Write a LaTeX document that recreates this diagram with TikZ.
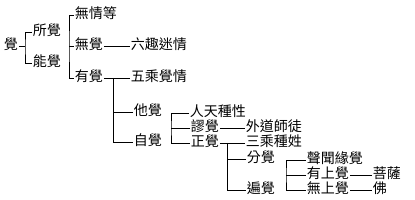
\documentclass[tikz,border=0pt]{standalone}
\usepackage{fontspec}
\newfontfamily\cjkfont{Noto Sans CJK TC}
\usetikzlibrary{positioning}
\begin{document}
\begin{tikzpicture}[x=1pt,y=-1pt,line width=0.9pt,
    term/.style={anchor=west,inner xsep=0.5pt,inner ysep=0pt,text height=8pt,text depth=1.4pt,
      font=\cjkfont\fontsize{14}{14}\selectfont}]
  \useasboundingbox (0,0) rectangle (415,200);
  \node[term] (jue) at (3,46) {覺};
  \node[term] (suo) at (32,32) {所覺};
  \node[term] (neng) at (32,63) {能覺};
  \node[term] (wuqing) at (74,15) {無情等};
  \node[term] (wujue) at (74,46) {無覺};
  \node[term] (youjue) at (74,78) {有覺};
  \node[term] (liuqu) at (130,46) {六趣迷情};
  \node[term] (wucheng) at (130,78) {五乘覺情};
  \node[term] (tajue) at (133,112) {他覺};
  \node[term] (zijue) at (133,142) {自覺};
  \node[term] (rentian) at (189,113) {人天種性};
  \node[term] (miujue) at (190,128) {謬覺};
  \node[term] (zhengjue) at (190,143) {正覺};
  \node[term] (waidao) at (245,128) {外道師徒};
  \node[term] (sancheng) at (245,143) {三乘種姓};
  \node[term] (fenjue) at (246,159) {分覺};
  \node[term] (bianjue) at (246,190) {遍覺};
  \node[term] (shengwen) at (306,160) {聲聞緣覺};
  \node[term] (youshang) at (306,175) {有上覺};
  \node[term] (wushang) at (306,190) {無上覺};
  \node[term] (pusa) at (372,175) {菩薩};
  \node[term] (fo) at (372,190) {佛};
  \coordinate (b1) at (25,46);
  \coordinate (b2) at (69,46);
  \coordinate (b3) at (113,78);
  \coordinate (b4) at (171,128);
  \coordinate (b5) at (227,143);
  \coordinate (b6) at (286,175);
  \draw (jue.east) -- (b1);
  \draw (suo.west) -| (b1) |- (neng.west);
  \draw (wuqing.west) -| (b2) |- (youjue.west);
  \draw (wujue.west) -- (b2);
  \draw (wujue.east) -- (liuqu.west);
  \draw (youjue.east) -- (wucheng.west);
  \draw (b3) |- (zijue.west);
  \draw (tajue.west) -- (tajue.west -| b3);
  \draw (rentian.west) -| (b4) |- (zhengjue.west);
  \draw (miujue.west) -- (b4);
  \draw (miujue.east) -- (waidao.west);
  \draw (zhengjue.east) -- (sancheng.west);
  \draw (b5) |- (bianjue.west);
  \draw (fenjue.west) -- (fenjue.west -| b5);
  \draw (shengwen.west) -| (b6) |- (wushang.west);
  \draw (youshang.west) -- (b6);
  \draw (youshang.east) -- (pusa.west);
  \draw (wushang.east) -- (fo.west);
\end{tikzpicture}
\end{document}
